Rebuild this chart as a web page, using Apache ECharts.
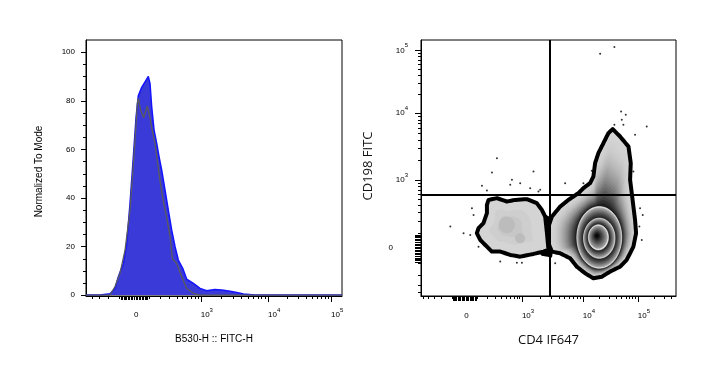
<!DOCTYPE html>
<html><head><meta charset="utf-8">
<script src="https://cdn.jsdelivr.net/npm/echarts@6/dist/echarts.min.js"></script>
<style>html,body{margin:0;padding:0;background:#fff}#c{width:725px;height:381px}</style>
</head><body><div id="c"></div>
<script>
// ================= DATA =================
// x values are in biexponential display units of the axis (0 -> "0", ~1 -> 10^3, ~2 -> 10^4, ~3 -> 10^5)
// Left panel: histogram of B530-H :: FITC-H, normalized to mode (%)
const blueX = [-0.72,-0.51,-0.36,-0.285,-0.235,-0.16,-0.11,-0.06,-0.01,0.03,0.064,0.115,0.165,0.214,0.24,0.265,0.30,0.34,0.38,0.415,0.465,0.514,0.565,0.615,0.664,0.73,0.79,0.89,0.99,1.09,1.21,1.315,1.44,1.54,1.64,1.81,3.118];
const blueY = [0,0,0.5,2.7,7.5,13,21,37.7,57,73,82,85.5,87.8,90,87,77.5,68,62.4,56.3,51.4,43.2,35,26.7,19.9,14.4,11,6.5,4.8,2.7,1.8,2.3,2.1,1.6,1,0.4,0,0];
const greyX = [-0.72,-0.36,-0.285,-0.21,-0.135,-0.06,-0.01,0.015,0.05,0.064,0.1,0.145,0.2,0.23,0.265,0.315,0.39,0.44,0.49,0.54,0.575,0.64,0.715,0.79,0.89,0.99,3.118];
const greyY = [0,0,3.5,9,18.5,35,54,64,79,81,76,73,77.8,74,69,62.4,47,38.4,32,24,15,13,7.5,2.7,0.7,0,0];
const histYTicks = [0,20,40,60,80,100];

// Biexponential tick labels (raw fluorescence values)
const biexTickRaw = [0, 1000, 10000, 100000];
const biexTickBase = ['0', '10', '10', '10'];
const biexTickExp  = ['', '3', '4', '5'];

// Right panel: CD4 IF647 vs CD198 FITC zebra/contour plot (display units)
const bigPopOuter = [[2.478,1.784],[2.6,1.673],[2.74,1.523],[2.778,1.274],[2.767,1.024],[2.795,0.825],[2.822,0.624],[2.85,0.424],[2.867,0.225],[2.822,0.024],[2.71,-0.175],[2.6,-0.276],[2.433,-0.35],[2.295,-0.426],[2.155,-0.45],[2.017,-0.375],[1.878,-0.276],[1.767,-0.15],[1.6,-0.075],[1.462,-0.05],[1.405,0.075],[1.405,0.324],[1.462,0.474],[1.6,0.624],[1.738,0.724],[1.905,0.825],[1.988,0.9],[2.1,0.975],[2.155,1.074],[2.183,1.274],[2.238,1.424],[2.322,1.574],[2.405,1.724]];
// inner contour rings of the big population: [cx, cy, rx, ry]
const bigPopRings = [[2.253,0.162,0.375,0.462],[2.253,0.15,0.263,0.30],[2.238,0.163,0.168,0.188]];
const bigPopCore = [2.21, 0.19];
const leftPopOuter = [[0.405,0.724],[0.545,0.75],[0.71,0.70],[0.85,0.724],[1.045,0.735],[1.21,0.675],[1.295,0.574],[1.35,0.474],[1.38,0.225],[1.405,-0.025],[1.32,-0.05],[1.155,-0.085],[0.933,-0.126],[0.767,-0.1],[0.6,-0.05],[0.46,-0.05],[0.378,0.024],[0.267,0.124],[0.21,0.225],[0.238,0.3],[0.32,0.375],[0.378,0.525],[0.378,0.65]];
const leftPopCenter = [0.74, 0.33];
const leftPopSpots = [[0.71,0.35,0.13,0.12],[0.93,0.15,0.08,0.07]];
const bridgeContour = [[1.2,0.6],[1.33,0.5],[1.43,0.45],[1.47,0.3],[1.47,0.0],[1.45,-0.12],[1.3,-0.1],[1.2,0.0],[1.15,0.3]];
// outlier events
const dotX = [2.267,2.505,2.617,2.695,2.628,2.505,2.655,3.045,2.85,2.822,0.545,0.462,1.155,0.795,0.933,0.295,0.378,0.767,1.238,1.267,1.1,1.683,1.988,2.128,0.128,0.155,-0.233,-0.012,0.1,0.238,0.6,0.878,0.962,1.517,2.933,2.978,2.922,2.962];
const dotY = [2.913,3.013,2.048,1.999,1.924,1.849,1.849,1.823,1.699,1.148,1.349,1.133,1.148,1.024,0.975,0.934,0.864,0.949,0.849,0.874,0.9,0.975,0.975,1.159,0.6,0.499,0.324,0.225,0.2,0.024,-0.2,-0.216,-0.216,-0.225,0.6,0.499,0.324,0.124];
// quadrant gate (raw values)
const gateXRaw = 2900;
const gateYRaw = 580;

// ================= SCALES =================
function makeBiex(c, raws, us) {
  const s = v => Math.asinh(v / c);
  const sa = raws.map(s);
  return function (v) {
    const x = s(v);
    let i = sa.length - 2;
    for (let k = 0; k < sa.length - 1; k++) { if (x <= sa[k + 1]) { i = k; break; } }
    return us[i] + (x - sa[i]) / (sa[i + 1] - sa[i]) * (us[i + 1] - us[i]);
  };
}
const LX = makeBiex(180, biexTickRaw, [0, 1.0, 2.009, 2.954]);
const RX = makeBiex(180, biexTickRaw, [0, 0.962, 1.978, 2.895]);
const RY = makeBiex(180, biexTickRaw, [0, 1.024, 2.024, 2.963]);
const LXR = [-0.72, 3.118], LYR = [-0.4, 105], RXR = [-0.722, 3.533], RYR = [-0.715, 3.118];

// tick raw values
const majorRaw = [1000, 10000, 100000];
const minorRaw = [], clusterRaw = [0];
for (let k = 1; k <= 5; k++) for (let m = 1; m <= 9; m++) {
  const v = m * Math.pow(10, k);
  if (k === 1) clusterRaw.push(v, -v);
  else if (!(m === 1 && k >= 3)) { minorRaw.push(v); if (k === 2) minorRaw.push(-v); }
}
minorRaw.push(-1000, -2000);

function inRange(r) { return v => v > r[0] + 1e-6 && v < r[1] - 1e-6; }

const FONT = 'Liberation Sans';
const rich = {
  b: { fontSize: 8, fontFamily: FONT, color: '#000', lineHeight: 20 },
  z: { fontSize: 8, fontFamily: FONT, color: '#000', lineHeight: 20, padding: [0, 15, 0, 0] },
  s: { fontSize: 6, fontFamily: FONT, color: '#000', lineHeight: 7, padding: [0, 0, 10, 0] }
};
function biexFormatter(T, zeroStyle) {
  return function (val) {
    let best = 0, bd = 1e9;
    biexTickRaw.forEach((r, i) => { const d = Math.abs(T(r) - val); if (d < bd) { bd = d; best = i; } });
    return biexTickExp[best] ? '{b|' + biexTickBase[best] + '}{s|' + biexTickExp[best] + '}' : '{' + zeroStyle + '|' + biexTickBase[best] + '}';
  };
}

function tickSeries(xi, yi, orient, vals, edge, len) {
  return {
    type: 'custom', xAxisIndex: xi, yAxisIndex: yi, silent: true, z: 6, clip: false,
    data: vals.map(v => orient === 'x' ? [v, edge] : [edge, v]),
    renderItem: function (params, api) {
      const p = api.coord([api.value(0), api.value(1)]);
      if (orient === 'x') {
        const x = Math.round(p[0]) + 0.5, y = Math.round(p[1]);
        return { type: 'line', shape: { x1: x, y1: y, x2: x, y2: y + len }, style: { stroke: '#000', lineWidth: 1 } };
      }
      const y = Math.round(p[1]) + 0.5, x = Math.round(p[0]);
      return { type: 'line', shape: { x1: x - len, y1: y, x2: x, y2: y }, style: { stroke: '#000', lineWidth: 1 } };
    }
  };
}

// ================= CONTOUR RENDERING =================
function densify(pts, n) {
  const out = [];
  for (let i = 0; i < pts.length; i++) {
    const a = pts[i], b = pts[(i + 1) % pts.length];
    for (let k = 0; k < n; k++) { const t = k / n; out.push([a[0] + (b[0] - a[0]) * t, a[1] + (b[1] - a[1]) * t]); }
  }
  return out;
}
function gray(g) { g = Math.max(0, Math.min(255, Math.round(g))); return 'rgb(' + g + ',' + g + ',' + g + ')'; }
function ellipsePx(api, e, n) {
  const c = api.coord([e[0], e[1]]), s = api.size([e[2], e[3]]);
  const pts = [];
  for (let k = 0; k < n; k++) { const a = 2 * Math.PI * k / n; pts.push([c[0] + s[0] * Math.cos(a), c[1] - s[1] * Math.sin(a)]); }
  return pts;
}
function lerpPts(A, B, t) { return A.map((p, i) => [p[0] + (B[i][0] - p[0]) * t, p[1] + (B[i][1] - p[1]) * t]); }
function poly(pts, fill) { return { type: 'polygon', shape: { points: pts }, style: { fill: fill, stroke: fill, lineWidth: 0.6 } }; }

function renderContours(params, api) {
  const ch = [];
  // bridge between populations
  ch.push({ type: 'polygon', shape: { points: bridgeContour.map(p => api.coord(p)) }, style: { fill: '#000', stroke: '#000', lineWidth: 2 } });
  // left population
  const lo = densify(leftPopOuter, 4).map(p => api.coord(p));
  const lc = api.coord(leftPopCenter);
  const lcArr = lo.map(() => lc);
  ch.push(poly(lo, '#d4d4d4'));
  ch.push(poly(lerpPts(lo, lcArr, 0.4), '#cecece'));
  ch.push(poly(lerpPts(lo, lcArr, 0.65), '#c7c7c7'));
  leftPopSpots.forEach(e => ch.push(poly(ellipsePx(api, e, 40), '#bcbcbc')));
  ch.push({ type: 'polygon', shape: { points: lo }, style: { fill: 'none', stroke: '#000', lineWidth: 4, lineJoin: 'round' } });

  // big population
  const bo = densify(bigPopOuter, 6).map(p => api.coord(p));
  const r1 = bigPopRings[0];
  const c1 = api.coord([r1[0], r1[1]]), s1 = api.size([r1[2], r1[3]]);
  const onRing = bo.map(p => {
    const th = Math.atan2(p[1] - c1[1], p[0] - c1[0]);
    const cs = Math.cos(th), sn = Math.sin(th);
    const r = 1 / Math.sqrt(cs * cs / (s1[0] * s1[0]) + sn * sn / (s1[1] * s1[1]));
    return [c1[0] + r * cs, c1[1] + r * sn];
  });
  const NA = 24;
  for (let j = 0; j < NA; j++) {
    const t = j / NA;
    ch.push(poly(lerpPts(bo, onRing, t), gray(212 - 200 * Math.pow(t, 2.2))));
  }
  const N = 120;
  const e1 = ellipsePx(api, bigPopRings[0], N), e2 = ellipsePx(api, bigPopRings[1], N), e3 = ellipsePx(api, bigPopRings[2], N);
  const core = api.coord(bigPopCore); const coreArr = e3.map(() => core);
  const bands = [[e1, e2], [e2, e3], [e3, coreArr]];
  bands.forEach((bd, bi) => {
    const NB = 10;
    for (let j = 0; j < NB; j++) {
      const t = j / NB;
      const g = j === 0 ? 238 : (bi === 2 ? 180 * Math.pow(1 - t, 1.2) : 30 + 160 * Math.pow(1 - t, 1.3));
      ch.push(poly(lerpPts(bd[0], bd[1], t), gray(g)));
    }
  });
  ch.push({ type: 'polygon', shape: { points: bo }, style: { fill: 'none', stroke: '#000', lineWidth: 4, lineJoin: 'round' } });
  return { type: 'group', children: ch };
}

// ================= CHART =================
const zip = (a, b) => a.slice(0, Math.min(a.length, b.length)).map((v, i) => [v, b[i]]);
const chart = echarts.init(document.getElementById('c'), null, { renderer: 'canvas' });

const lxMinor = minorRaw.map(LX).filter(inRange(LXR));
const lxCluster = clusterRaw.map(LX).filter(inRange(LXR));
const lxMajor = majorRaw.map(LX).filter(inRange(LXR));
const rxMinor = minorRaw.map(RX).filter(inRange(RXR));
const rxCluster = clusterRaw.map(RX).filter(inRange(RXR));
const rxMajor = majorRaw.map(RX).filter(inRange(RXR));
const ryMinor = minorRaw.map(RY).filter(inRange(RYR));
const ryCluster = clusterRaw.map(RY).filter(inRange(RYR));
const ryMajor = majorRaw.map(RY).filter(inRange(RYR));
const lyMinor = []; for (let v = 5; v < 105; v += 5) if (v % 20) lyMinor.push(v);

const axisCommon = {
  type: 'value', splitLine: { show: false }, axisTick: { show: false },
  axisLine: { show: true, onZero: false, lineStyle: { color: '#000', width: 1 } }
};

chart.setOption({
  animation: false,
  backgroundColor: '#fff',
  grid: [
    { left: 86, top: 40, width: 256, height: 256, show: true, borderColor: '#000', borderWidth: 1, containLabel: false },
    { left: 421, top: 40, width: 255, height: 256, show: true, borderColor: '#000', borderWidth: 1, containLabel: false }
  ],
  xAxis: [
    Object.assign({}, axisCommon, {
      gridIndex: 0, min: LXR[0], max: LXR[1],
      name: 'B530-H :: FITC-H', nameLocation: 'middle', nameGap: 38,
      nameTextStyle: { fontFamily: FONT, fontSize: 10, color: '#000' },
      axisLabel: { customValues: biexTickRaw.map(LX), formatter: biexFormatter(LX, 'b'), rich: rich, align: 'left', margin: 9 }
    }),
    Object.assign({}, axisCommon, {
      gridIndex: 1, min: RXR[0], max: RXR[1],
      name: 'CD4 IF647', nameLocation: 'middle', nameGap: 38,
      nameTextStyle: { fontFamily: 'Open Sans', fontSize: 13, color: '#111' },
      axisLabel: { customValues: biexTickRaw.map(RX), formatter: biexFormatter(RX, 'b'), rich: rich, align: 'left', margin: 10 }
    })
  ],
  yAxis: [
    Object.assign({}, axisCommon, {
      gridIndex: 0, min: LYR[0], max: LYR[1],
      name: 'Normalized To Mode', nameLocation: 'middle', nameGap: 42,
      nameTextStyle: { fontFamily: FONT, fontSize: 10, color: '#000', padding: [0, 7, 0, 0] },
      axisLabel: { customValues: histYTicks, fontFamily: FONT, fontSize: 8, color: '#000', margin: 11 }
    }),
    Object.assign({}, axisCommon, {
      gridIndex: 1, min: RYR[0], max: RYR[1],
      name: 'CD198 FITC', nameLocation: 'middle', nameGap: 46,
      nameTextStyle: { fontFamily: 'Open Sans', fontSize: 13, color: '#111', padding: [0, 0, 0, 4] },
      axisLabel: { customValues: biexTickRaw.map(RY), formatter: biexFormatter(RY, 'z'), rich: rich, margin: 13 }
    })
  ],
  series: [
    { type: 'line', xAxisIndex: 0, yAxisIndex: 0, data: zip(blueX, blueY), showSymbol: false, smooth: false, z: 2,
      lineStyle: { color: '#1414ff', width: 1.5 }, areaStyle: { color: '#3a3ad8', opacity: 1 } },
    { type: 'line', xAxisIndex: 0, yAxisIndex: 0, data: zip(greyX, greyY), showSymbol: false, smooth: false, z: 3,
      lineStyle: { color: '#5a5a5a', width: 1.3 } },
    tickSeries(0, 0, 'x', lxMinor, LYR[0], 3),
    tickSeries(0, 0, 'x', lxCluster, LYR[0], 4),
    tickSeries(0, 0, 'x', lxMajor, LYR[0], 6),
    tickSeries(0, 0, 'y', lyMinor, LXR[0], 3),
    tickSeries(0, 0, 'y', histYTicks, LXR[0], 5),
    { type: 'custom', xAxisIndex: 1, yAxisIndex: 1, silent: true, z: 2, data: [[bigPopCore[0], bigPopCore[1]]], renderItem: renderContours },
    { type: 'scatter', xAxisIndex: 1, yAxisIndex: 1, data: zip(dotX, dotY), symbolSize: 2, z: 4,
      itemStyle: { color: '#000' }, silent: true,
      markLine: { silent: true, symbol: ['none', 'none'], label: { show: false },
        lineStyle: { color: '#000', width: 2, type: 'solid' },
        data: [{ xAxis: RX(gateXRaw) }, { yAxis: RY(gateYRaw) }] } },
    tickSeries(1, 1, 'x', rxMinor, RYR[0], 3),
    tickSeries(1, 1, 'x', rxCluster, RYR[0], 5),
    tickSeries(1, 1, 'x', rxMajor, RYR[0], 6),
    tickSeries(1, 1, 'y', ryMinor, RXR[0], 3),
    tickSeries(1, 1, 'y', ryCluster, RXR[0], 6),
    tickSeries(1, 1, 'y', ryMajor, RXR[0], 6)
  ]
});
</script></body></html>
